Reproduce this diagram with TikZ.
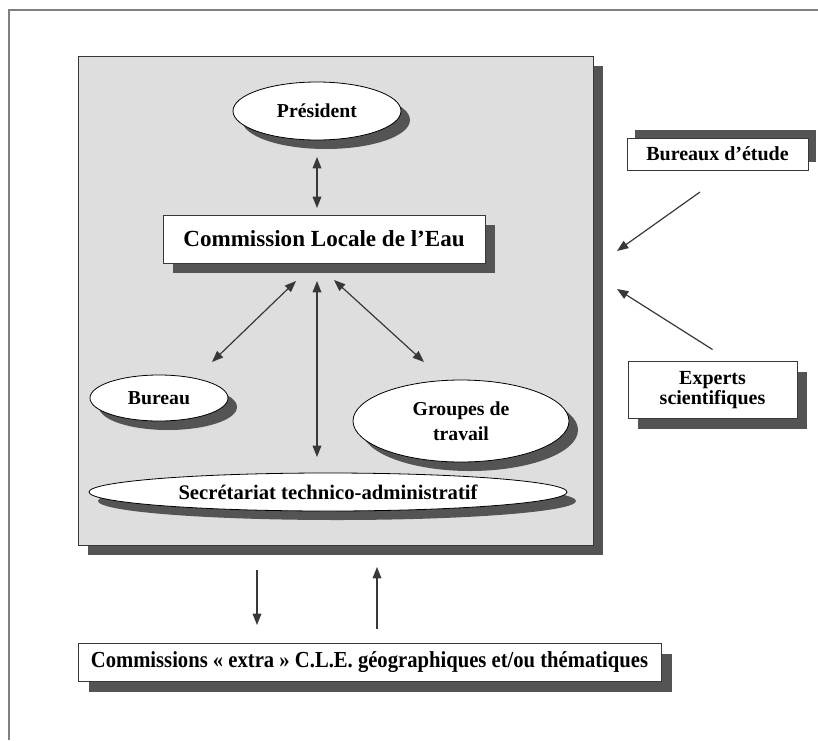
\documentclass[tikz,border=0pt]{standalone}
\usepackage{fontspec}
\setmainfont{Liberation Serif}
\newfontfamily\narrowserif[FakeStretch=0.9]{Liberation Serif}
\usetikzlibrary{shapes.geometric,shadows,arrows.meta}

\definecolor{shadegray}{gray}{0.33}
\definecolor{panelgray}{gray}{0.87}
\definecolor{linegray}{gray}{0.22}
\definecolor{framegray}{gray}{0.5}

\tikzset{
  % shadow offsets are given in pt (1 unit = 0.75pt)
  dropdown/.style={general shadow={fill=shadegray, shadow xshift=#1, shadow yshift=-#1}},
  dropup/.style={general shadow={fill=shadegray, shadow xshift=#1, shadow yshift=#1}},
  panel/.style={rectangle, draw=linegray, line width=0.6pt, fill=panelgray,
    inner sep=0pt, outer sep=0pt, dropdown=7.5pt},
  oval/.style={ellipse, draw=black, line width=0.6pt, fill=white,
    inner sep=0pt, outer sep=0pt, align=center,
    general shadow={fill=shadegray, shadow xshift=6.75pt, shadow yshift=-6.75pt}},
  labelbox/.style={rectangle, draw=linegray, line width=0.6pt, fill=white,
    inner sep=0pt, outer sep=0pt, align=center},
  link/.style={draw=linegray, line width=0.9pt, -{Triangle[length=8.5pt,width=6.5pt]}},
  bilink/.style={draw=linegray, line width=0.9pt,
    {Triangle[length=8.5pt,width=6.5pt]}-{Triangle[length=8.5pt,width=6.5pt]}},
}

\begin{document}
\begin{tikzpicture}[x=0.75pt, y=-0.75pt, font=\bfseries]
  \useasboundingbox (0,0) rectangle (818,740);

  % page frame, open at the right and at the bottom
  \draw[framegray, line width=0.9pt] (9,740) -- (9,10) -- (818,10);

  % the C.L.E. panel
  \node[panel, minimum width=386.25pt, minimum height=366.75pt] (panel) at (335.5,300.5) {};

  \node[oval, minimum width=126pt, minimum height=43.5pt,
        font=\bfseries\fontsize{14.8}{17}\selectfont] (pres) at (317,111) {Président};

  \node[labelbox, minimum width=241.5pt, minimum height=36pt, dropdown=7.5pt,
        font=\bfseries\fontsize{17.3}{20}\selectfont] (cle) at (324,239) {Commission Locale de l’Eau};

  \node[oval, minimum width=103.5pt, minimum height=34.5pt,
        font=\bfseries\fontsize{14.8}{17}\selectfont] (bureau) at (159,398) {Bureau};

  \node[oval, minimum width=162pt, minimum height=61.5pt,
        font=\bfseries\fontsize{14.8}{18.75}\selectfont] (groupes) at (461,421) {Groupes de\\travail};

  \node[oval, minimum width=358.5pt, minimum height=28.5pt,
        font=\bfseries\fontsize{15.5}{17}\selectfont] (secr) at (328,492) {Secrétariat technico-administratif};

  % outside partners
  \node[labelbox, minimum width=135.75pt, minimum height=24pt, dropup=6pt,
        font=\bfseries\fontsize{15}{17}\selectfont] (etudes) at (717.5,154) {Bureaux d’étude};

  \node[labelbox, minimum width=126.75pt, minimum height=42.75pt, dropdown=7.5pt,
        font=\bfseries\fontsize{15}{15.5}\selectfont] (experts) at (712.5,390) {Experts\\scientifiques};

  \node[labelbox, minimum width=437.25pt, minimum height=28.5pt, dropdown=8.25pt,
        font=\narrowserif\bfseries\fontsize{17.2}{19}\selectfont] (extra) at (369.5,662)
        {Commissions « extra » C.L.E. géographiques et/ou thématiques};

  % links inside the panel
  \draw[bilink] ([yshift=-12.75pt]pres.south) -- ([xshift=-5.25pt,yshift=5.25pt]cle.north);
  \draw[bilink] ([xshift=-21pt,yshift=-13.5pt]cle.south) -- ([xshift=39.75pt,yshift=27pt]bureau.center);
  \draw[bilink] ([xshift=-5.25pt,yshift=-13.5pt]cle.south) -- ([xshift=-8.25pt,yshift=12pt]secr.north);
  \draw[bilink] ([xshift=7.5pt,yshift=-12.75pt]cle.south) -- ([xshift=-27.75pt,yshift=44.25pt]groupes.center);

  % contributions from outside
  \coordinate (inA) at (617,251);
  \coordinate (inB) at (617,289);
  \draw[link] ([xshift=-13.125pt,yshift=-16.5pt]etudes.south) -- (inA);
  \draw[link] ([yshift=9pt]experts.north) -- (inB);

  % exchanges with the extra commissions
  \draw[link] ([xshift=-58.875pt,yshift=-18.75pt]panel.south) -- ([xshift=-84.375pt,yshift=13.5pt]extra.north);
  \draw[link] ([xshift=5.625pt,yshift=10.5pt]extra.north) -- ([xshift=31.125pt,yshift=-16.5pt]panel.south);
\end{tikzpicture}
\end{document}
